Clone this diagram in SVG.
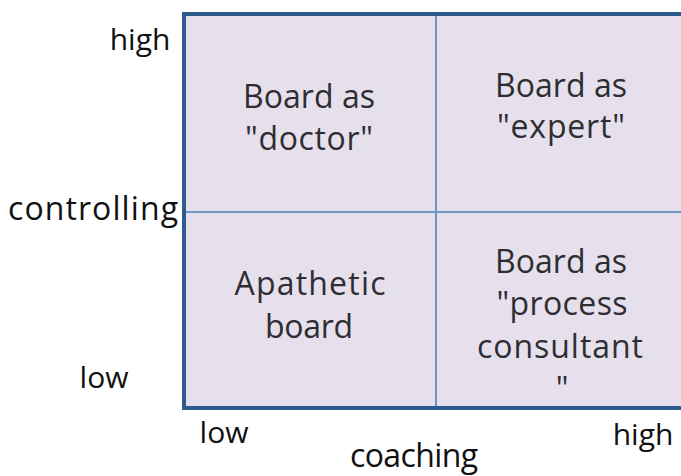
<svg xmlns="http://www.w3.org/2000/svg" width="681" height="476" viewBox="0 0 681 476">
<style>
text{font-family:"Open Sans","Liberation Sans",sans-serif;font-size:32px;fill:#111111}
.q{fill:#2e2e32;text-anchor:middle}
.s{font-size:30px;text-anchor:middle}
.mid{stroke:#7096c6;stroke-width:2;fill:none}
</style>
<rect x="0" y="0" width="681" height="476" fill="#ffffff"/>
<g id="grid">
<rect x="183" y="14" width="510" height="395" fill="#e5e0ec"/>
</g>
<g id="connectors">
<line class="mid" x1="436" y1="14" x2="436" y2="409"/>
<line class="mid" x1="183" y1="212" x2="681" y2="212"/>
<path d="M681,14 H184 V408 H681" fill="none" stroke="#2d5a8f" stroke-width="4"/>
</g>
<g id="doctor"><text class="q" x="309" y="108" textLength="132">Board as</text><text class="q" x="309" y="150" textLength="128">"doctor"</text></g>
<g id="expert"><text class="q" x="561" y="97" textLength="132">Board as</text><text class="q" x="561" y="138" textLength="128">"expert"</text></g>
<g id="apathetic"><text class="q" x="310" y="295" textLength="151">Apathetic</text><text class="q" x="309" y="338" textLength="88">board</text></g>
<g id="process"><text class="q" x="561" y="273" textLength="132">Board as</text><text class="q" x="562" y="315" textLength="131">"process</text><text class="q" x="560" y="358" textLength="166">consultant</text><text class="q" x="562" y="400">"</text></g>
<g id="labels">
<text class="s" x="140" y="50">high</text>
<text x="8" y="220" textLength="170">controlling</text>
<text class="s" x="104" y="388">low</text>
<text class="s" x="224" y="443">low</text>
<text class="s" x="643" y="445">high</text>
<text x="350" y="467" textLength="128">coaching</text>
</g>
</svg>
